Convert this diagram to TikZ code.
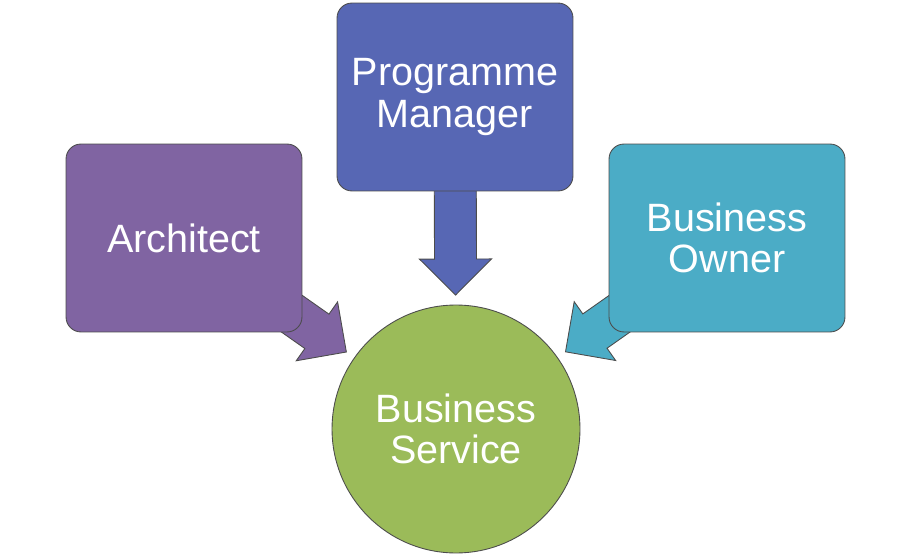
\documentclass[tikz,border=0pt]{standalone}
\usepackage{fontspec}
\setmainfont{Liberation Sans}
\usetikzlibrary{calc,backgrounds}
\definecolor{archpurple}{HTML}{8064A2}
\definecolor{progblue}{HTML}{5767B4}
\definecolor{ownercyan}{HTML}{4BACC6}
\definecolor{servgreen}{HTML}{9BBB59}
% block arrow from node #1 towards node #2, filled with #3
\newcommand{\blockarrow}[3]{
  \path ($(#2.center)!2.68cm!(#1.center)$) coordinate (tip)
        ($(#2.center)!3.40cm!(#1.center)$) coordinate (base);
  \filldraw[fill=#3,draw=black!70,line width=0.5pt]
    ($(#1.center)!0.42cm!90:(tip)$) -- ($(base)!0.42cm!90:(tip)$)
    -- ($(base)!0.72cm!90:(tip)$) -- (tip) -- ($(base)!0.72cm!-90:(tip)$)
    -- ($(base)!0.42cm!-90:(tip)$) -- ($(#1.center)!0.42cm!-90:(tip)$) -- cycle;
}

\begin{document}
\begin{tikzpicture}[x=0.02cm,y=-0.02cm,
  role/.style={draw=black!70,line width=0.5pt,fill=#1,rounded corners=0.3cm,
    minimum width=4.72cm,minimum height=3.76cm,text=white,align=center,
    font=\fontsize{22.5}{23.5}\selectfont},
  goal/.style={circle,draw=black!70,line width=0.5pt,fill=#1,minimum size=4.96cm,
    inner sep=0pt,text=white,align=center,font=\fontsize{22.5}{23.5}\selectfont}]
  \useasboundingbox (0,0) rectangle (912,560);
  \node[role=archpurple] (arch) at (184,238) {Architect};
  \node[role=progblue] (prog) at (455,97) {Programme\\Manager};
  \node[role=ownercyan] (owner) at (727,238) {Business\\Owner};
  \node[goal=servgreen] (serv) at (456,429) {Business\\Service};
  \begin{scope}[on background layer]
    \blockarrow{arch}{serv}{archpurple}
    \blockarrow{prog}{serv}{progblue}
    \blockarrow{owner}{serv}{ownercyan}
  \end{scope}
\end{tikzpicture}
\end{document}
